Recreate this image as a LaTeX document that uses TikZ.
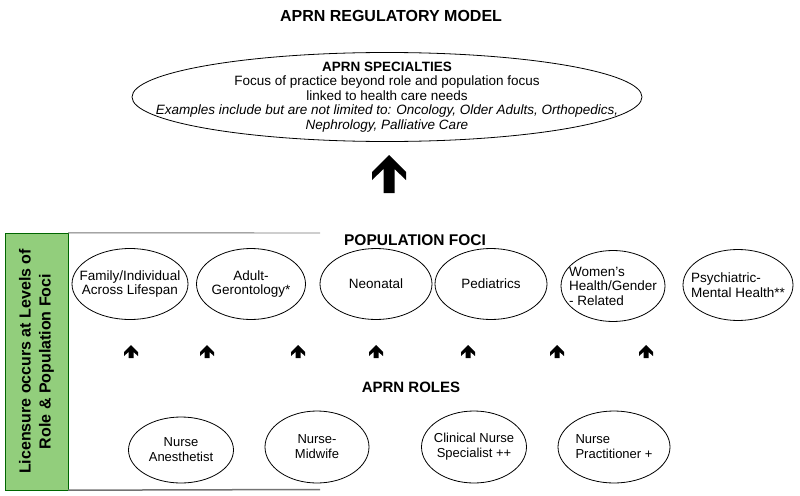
\documentclass[tikz,border=0pt]{standalone}
\usepackage{fontspec}
\setmainfont{Liberation Sans}
\usepackage{tikz}
\usetikzlibrary{shapes.geometric}

\definecolor{verdelic}{RGB}{146,206,124}

\begin{document}
\begin{tikzpicture}[x=1pt, y=-1pt]
            % Estilos
            \tikzstyle{foco}=[ellipse, draw, line width=0.8pt, inner xsep=-20pt, inner ysep=-10pt, minimum width=112pt, minimum height=71pt, align=center, font=\fontsize{13.5}{14.5}\selectfont]
            \tikzstyle{papel}=[foco, minimum width=106pt, minimum height=72pt, font=\fontsize{13}{15}\selectfont]
            \tikzstyle{cabec}=[font=\fontsize{15.5}{18}\selectfont\bfseries]
            \tikzstyle{seta}=[fill=black]
            \tikzstyle{linha}=[draw=black!55, line width=1.2pt]

            \useasboundingbox (0,0) rectangle (800,495);

            % Topo
            \node[cabec, font=\fontsize{16}{19}\selectfont\bfseries] (titulo) at (391,15.5) {APRN REGULATORY MODEL};
            \node[foco, minimum width=510pt, minimum height=89pt, inner xsep=-60pt, inner ysep=-15pt, font=\fontsize{13.5}{14.5}\selectfont] (spec) at (387,97)
                {{\bfseries APRN SPECIALTIES}\\Focus of practice beyond role and population focus\\linked to health care needs\\
                 {\itshape Examples include but are not limited to: Oncology, Older Adults, Orthopedics,}\\{\itshape Nephrology, Palliative Care}};
            \fill[seta] (389,155) -- (406,172) -- (406,180) -- (394.5,169) -- (394.5,193) -- (383.5,193) -- (383.5,169) -- (372,180) -- (372,172) -- cycle;

            % Faixa verde
            \node[draw=black!60!green, fill=verdelic, rotate=90, minimum width=257pt, minimum height=63pt, inner sep=0pt, align=center,
                  font=\fontsize{16}{20}\selectfont\bfseries] (lic) at (36.5,361.5) {Licensure occurs at Levels of\\Role \& Population Foci};
            \coordinate (fimtopo) at (320,233);
            \coordinate (fimbase) at (320,489.5);
            \draw[linha, line width=0.9pt] (lic.south east) -- (fimtopo);
            \draw[linha, line width=1.5pt] (lic.south west) -- (fimbase);

            % Focos de populacao
            \node[cabec] (pop) at (415,240) {POPULATION FOCI};
            \node[foco, minimum width=116pt] (fam) at (130,284) {Family/Individual\\Across Lifespan};
            \node[foco, minimum width=109pt] (adult) at (251,284) {Adult-\\Gerontology*};
            \node[foco] (neo) at (376,284) {Neonatal};
            \node[foco] (ped) at (491,284) {Pediatrics};
            \node[foco, minimum width=104pt, align=left] (women) at (613,286) {Women's\\Health/Gender\\- Related};
            \node[foco, minimum width=110pt, align=left] (psych) at (738,285) {Psychiatric-\\Mental Health**};

            % Setas
            \fill[seta, shift={(131,345)}] (0,0) -- (7,7) -- (7,11) -- (2.5,7) -- (2.5,13) -- (-2.5,13) -- (-2.5,7) -- (-7,11) -- (-7,7) -- cycle;
            \fill[seta, shift={(207,345)}] (0,0) -- (7,7) -- (7,11) -- (2.5,7) -- (2.5,13) -- (-2.5,13) -- (-2.5,7) -- (-7,11) -- (-7,7) -- cycle;
            \fill[seta, shift={(298,345)}] (0,0) -- (7,7) -- (7,11) -- (2.5,7) -- (2.5,13) -- (-2.5,13) -- (-2.5,7) -- (-7,11) -- (-7,7) -- cycle;
            \fill[seta, shift={(376,345)}] (0,0) -- (7,7) -- (7,11) -- (2.5,7) -- (2.5,13) -- (-2.5,13) -- (-2.5,7) -- (-7,11) -- (-7,7) -- cycle;
            \fill[seta, shift={(468,345)}] (0,0) -- (7,7) -- (7,11) -- (2.5,7) -- (2.5,13) -- (-2.5,13) -- (-2.5,7) -- (-7,11) -- (-7,7) -- cycle;
            \fill[seta, shift={(557,345)}] (0,0) -- (7,7) -- (7,11) -- (2.5,7) -- (2.5,13) -- (-2.5,13) -- (-2.5,7) -- (-7,11) -- (-7,7) -- cycle;
            \fill[seta, shift={(646,345)}] (0,0) -- (7,7) -- (7,11) -- (2.5,7) -- (2.5,13) -- (-2.5,13) -- (-2.5,7) -- (-7,11) -- (-7,7) -- cycle;

            % Papeis
            \node[cabec, font=\fontsize{15}{18}\selectfont\bfseries] (roles) at (411,387) {APRN ROLES};
            \node[papel, minimum width=105pt, minimum height=66pt] (cna) at (181,450) {Nurse\\Anesthetist};
            \node[papel, minimum width=104pt] (cnm) at (317,447) {Nurse-\\Midwife};
            \node[papel, minimum width=105pt] (cns) at (474,447) {Clinical Nurse\\Specialist ++};
            \node[papel, minimum width=112pt, align=left] (cnp) at (614,447) {Nurse\\Practitioner +};
        \end{tikzpicture}
\end{document}
